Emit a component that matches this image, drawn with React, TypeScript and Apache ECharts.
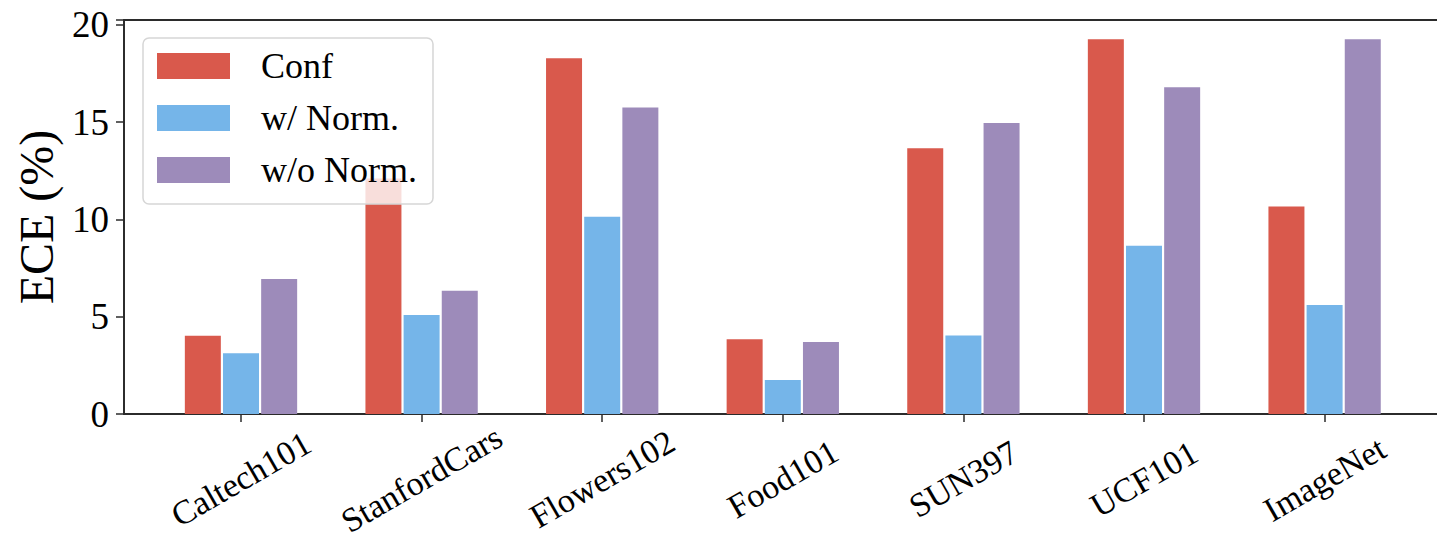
import React, { useEffect, useRef } from "react";
import * as echarts from "echarts";

const categories = ["Caltech101", "StanfordCars", "Flowers102", "Food101", "SUN397", "UCF101", "ImageNet"];
const seriesNames = ["Conf", "w/ Norm.", "w/o Norm."];
const confValues = [4.02, 12.1, 18.29, 3.84, 13.66, 19.26, 10.66];
const withNormValues = [3.12, 5.09, 10.14, 1.75, 4.03, 8.65, 5.6];
const withoutNormValues = [6.94, 6.34, 15.75, 3.7, 14.95, 16.8, 19.26];
const yTicks = [0, 5, 10, 15, 20];
const colors = ["#D9594C", "#75B5E9", "#9D8BBA"];

const FONT = "'Liberation Serif', 'Times New Roman', serif";

export default function App() {
  const ref = useRef<HTMLDivElement>(null);
  useEffect(() => {
    if (!ref.current) return;
    const chart = echarts.init(ref.current, undefined, { renderer: "svg" });
    const yMax = 20.25;
    const allValues = [confValues, withNormValues, withoutNormValues];
    chart.setOption({
      animation: false,
      backgroundColor: "#ffffff",
      textStyle: { fontFamily: FONT },
      legend: {
        data: seriesNames,
        orient: "vertical",
        left: 143,
        top: 38,
        itemWidth: 73,
        itemHeight: 26,
        itemGap: 12,
        padding: [8, 16, 14, 14],
        backgroundColor: "rgba(255,255,255,0.8)",
        borderColor: "#d6d6d6",
        borderWidth: 1.5,
        borderRadius: 6,
        icon: "rect",
        textStyle: {
          fontFamily: FONT,
          fontSize: 36,
          color: "#000",
          lineHeight: 40,
          padding: [0, 0, 0, 26],
        },
      },
      grid: [
        { left: 150.7, width: 1264.2, top: 20, bottom: 130, show: false, containLabel: false, outerBoundsMode: "none" },
        {
          left: 124,
          width: 1318,
          top: 20,
          bottom: 130,
          show: true,
          containLabel: false,
          outerBoundsMode: "none",
          borderColor: "#2b2b2b",
          borderWidth: 1.8,
          backgroundColor: "transparent",
        },
      ],
      xAxis: [
        {
          type: "category",
          gridIndex: 0,
          data: categories,
          axisLine: { show: false },
          axisTick: { show: true, alignWithLabel: true, length: 8, lineStyle: { color: "#2b2b2b", width: 1.5 } },
          axisLabel: {
            rotate: 30,
            align: "center",
            verticalAlign: "middle",
            margin: 65,
            fontFamily: FONT,
            fontSize: 34,
            color: "#000",
          },
          splitLine: { show: false },
        },
        { type: "value", gridIndex: 1, show: false, min: 0, max: 1 },
      ],
      yAxis: [
        { type: "value", gridIndex: 0, show: false, min: 0, max: yMax, interval: 5, splitLine: { show: false } },
        {
          type: "value",
          gridIndex: 1,
          min: 0,
          max: yMax,
          interval: 5,
          name: "ECE (%)",
          nameLocation: "middle",
          nameGap: 64,
          nameTextStyle: { fontFamily: FONT, fontSize: 48, color: "#000" },
          axisLine: { show: true, lineStyle: { color: "#2b2b2b", width: 1.8 } },
          axisTick: { show: true, length: 8, lineStyle: { color: "#2b2b2b", width: 1.5 } },
          axisLabel: {
            fontFamily: FONT,
            fontSize: 37,
            color: "#000",
            margin: 15,
            formatter: (v: number) => (yTicks.includes(v) ? String(v) : ""),
          },
          splitLine: { show: false },
        },
      ],
      series: seriesNames.map((name, i) => ({
        name,
        type: "bar",
        xAxisIndex: 0,
        yAxisIndex: 0,
        data: allValues[i],
        barWidth: 36,
        barGap: "6%",
        itemStyle: { color: colors[i] },
      })),
    });
    return () => chart.dispose();
  }, []);
  return <div ref={ref} style={{ position: "fixed", left: 0, top: 0, width: 1437, height: 544 }} />;
}
